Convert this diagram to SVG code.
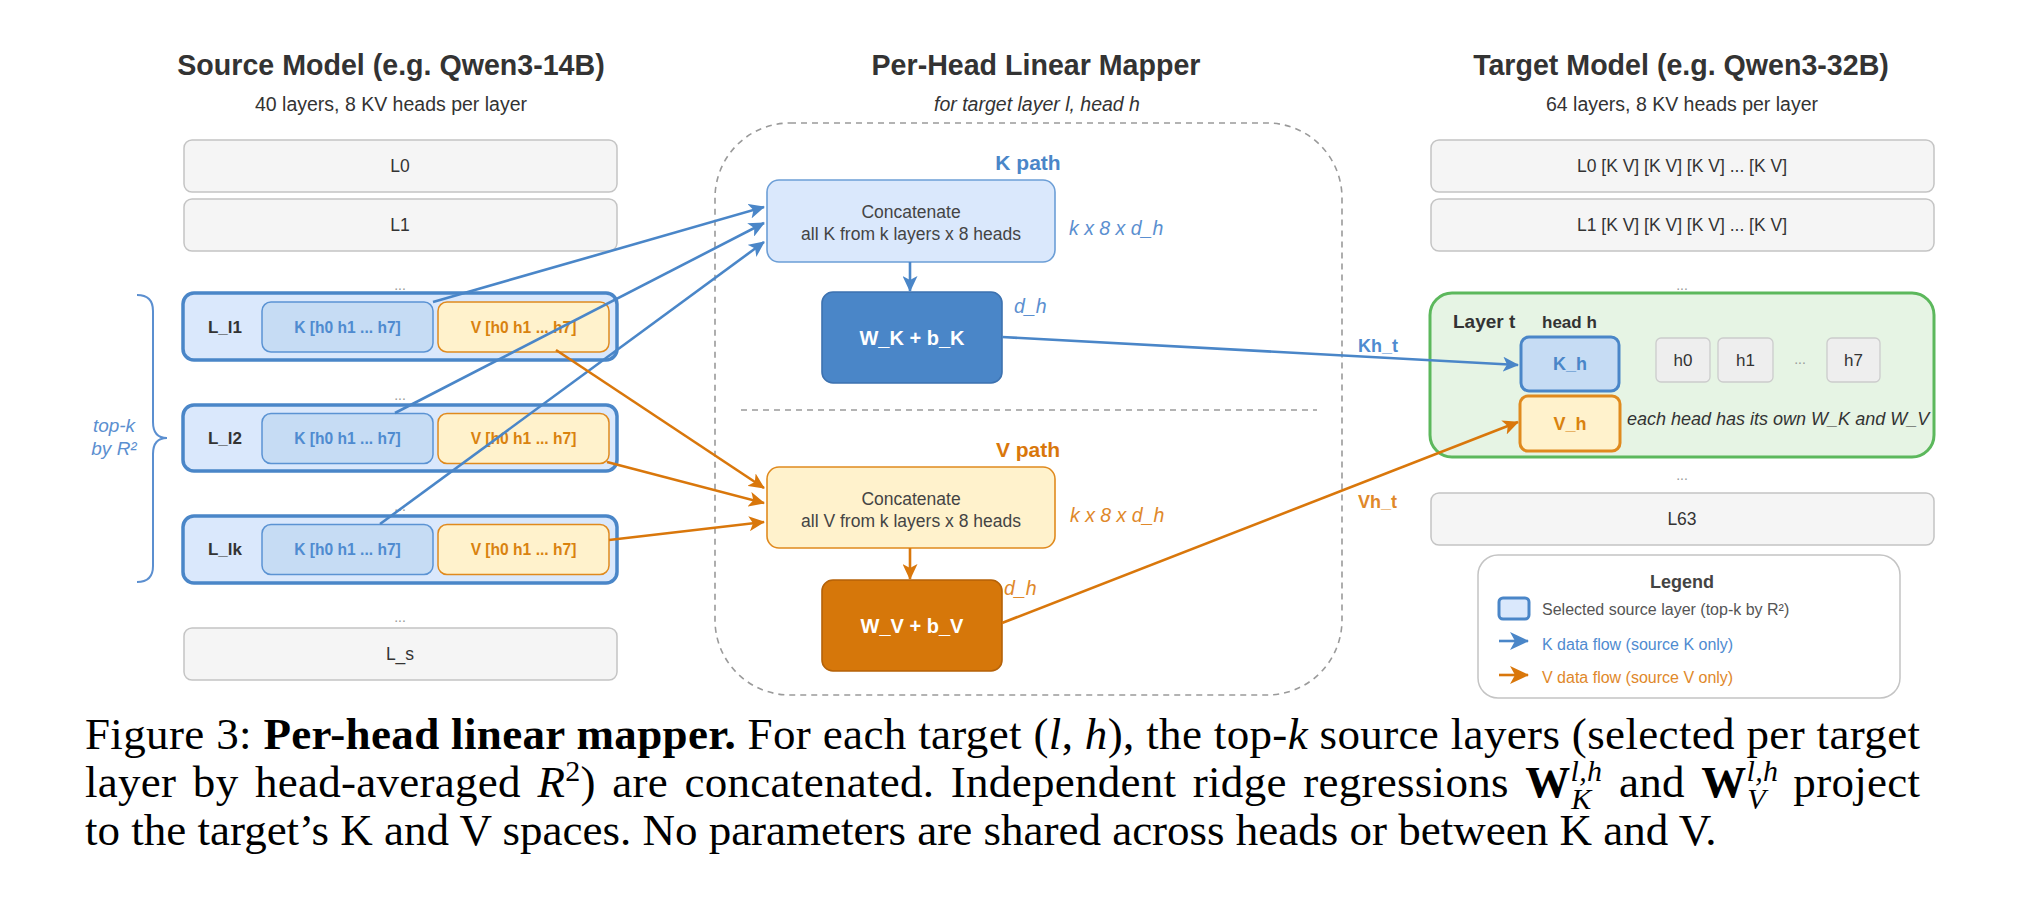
<svg xmlns="http://www.w3.org/2000/svg" width="2032" height="922" viewBox="0 0 2032 922">
<style>
text{font-family:"Liberation Sans",Arial,Helvetica,sans-serif}
.title{font-size:28.6px;font-weight:bold;fill:#333;text-anchor:middle}
.sub{font-size:19.5px;fill:#333;text-anchor:middle}
.subi{font-size:19.5px;fill:#333;text-anchor:middle;font-style:italic}
.gbox{fill:#f5f5f5;stroke:#c4c4c4;stroke-width:1.5}
.glbl{font-size:17.5px;fill:#333;text-anchor:middle;dominant-baseline:central}
.sel{fill:#dae8fc;stroke:#4a86c8;stroke-width:3.5}
.kin{fill:#c6dcf4;stroke:#5b93d3;stroke-width:1.5}
.vin{fill:#fff2cc;stroke:#e08a1e;stroke-width:1.5}
.llbl{font-size:17px;font-weight:bold;fill:#333;text-anchor:middle;dominant-baseline:central}
.ktx{font-size:15.6px;font-weight:bold;fill:#4f8bd0;text-anchor:middle;dominant-baseline:central}
.vtx{font-size:15.6px;font-weight:bold;fill:#d9820f;text-anchor:middle;dominant-baseline:central}
.dots{font-size:14px;fill:#999;text-anchor:middle}
.kl{stroke:#4a86c8;stroke-width:2.6;fill:none;marker-end:url(#ak)}
.vl{stroke:#d9770b;stroke-width:2.6;fill:none;marker-end:url(#av)}
.ctx{font-size:17.5px;fill:#444;text-anchor:middle}
.kdim{font-size:19.5px;font-style:italic;fill:#5b8fd0}
.vdim{font-size:19.5px;font-style:italic;fill:#e0882a}
.cap{font-family:"Liberation Serif","Times New Roman",serif;font-size:45px;fill:#000}
.scr{font-size:30px}
</style>
<defs>
<marker id="ak" markerUnits="userSpaceOnUse" markerWidth="17" markerHeight="15" refX="15" refY="7.5" orient="auto">
<path d="M0,0 L16,7.5 L0,15 L4,7.5 z" fill="#4a86c8"/>
</marker>
<marker id="av" markerUnits="userSpaceOnUse" markerWidth="17" markerHeight="15" refX="15" refY="7.5" orient="auto">
<path d="M0,0 L16,7.5 L0,15 L4,7.5 z" fill="#d9770b"/>
</marker>
<marker id="akl" markerUnits="userSpaceOnUse" markerWidth="20" markerHeight="18" refX="18" refY="9" orient="auto">
<path d="M0,0 L19,9 L0,18 L5,9 z" fill="#4a86c8"/>
</marker>
<marker id="avl" markerUnits="userSpaceOnUse" markerWidth="20" markerHeight="18" refX="18" refY="9" orient="auto">
<path d="M0,0 L19,9 L0,18 L5,9 z" fill="#d9770b"/>
</marker>
</defs>
<rect width="2032" height="922" fill="#fff"/>

<!-- Source column -->
<g id="source-header">
<text class="title" x="391" y="75">Source Model (e.g. Qwen3-14B)</text>
<text class="sub" x="391" y="111">40 layers, 8 KV heads per layer</text>
</g>
<g id="src-L0"><rect class="gbox" x="184" y="140" width="433" height="52" rx="8"/><text class="glbl" x="400" y="166">L0</text></g>
<g id="src-L1"><rect class="gbox" x="184" y="199" width="433" height="52" rx="8"/><text class="glbl" x="400" y="225">L1</text></g>
<text class="dots" x="400" y="290">...</text>
<g id="src-Ll1">
<rect class="sel" x="183" y="293" width="434" height="67" rx="11"/>
<text class="llbl" x="225" y="327">L_l1</text>
<rect class="kin" x="262" y="302" width="171" height="50" rx="9"/>
<text class="ktx" x="347.5" y="327">K [h0 h1 ... h7]</text>
<rect class="vin" x="438" y="302" width="171" height="50" rx="9"/>
<text class="vtx" x="523.5" y="327">V [h0 h1 ... h7]</text>
</g>
<text class="dots" x="400" y="400">...</text>
<g id="src-Ll2">
<rect class="sel" x="183" y="405" width="434" height="66" rx="11"/>
<text class="llbl" x="225" y="438.5">L_l2</text>
<rect class="kin" x="262" y="413.5" width="171" height="50" rx="9"/>
<text class="ktx" x="347.5" y="438.5">K [h0 h1 ... h7]</text>
<rect class="vin" x="438" y="413.5" width="171" height="50" rx="9"/>
<text class="vtx" x="523.5" y="438.5">V [h0 h1 ... h7]</text>
</g>
<text class="dots" x="400" y="511">...</text>
<g id="src-Llk">
<rect class="sel" x="183" y="516" width="434" height="67" rx="11"/>
<text class="llbl" x="225" y="549.5">L_lk</text>
<rect class="kin" x="262" y="524.5" width="171" height="50" rx="9"/>
<text class="ktx" x="347.5" y="549.5">K [h0 h1 ... h7]</text>
<rect class="vin" x="438" y="524.5" width="171" height="50" rx="9"/>
<text class="vtx" x="523.5" y="549.5">V [h0 h1 ... h7]</text>
</g>
<text class="dots" x="400" y="622">...</text>
<g id="src-Ls"><rect class="gbox" x="184" y="628" width="433" height="52" rx="8"/><text class="glbl" x="400" y="654">L_s</text></g>
<g id="topk-brace">
<path d="M137,295 Q153,295 153,311 L153,422 Q153,438 167,438 Q153,438 153,454 L153,566 Q153,582 137,582" fill="none" stroke="#5b8fd0" stroke-width="2"/>
<text x="114" y="432" font-size="19" font-style="italic" fill="#5b8fd0" text-anchor="middle">top-k</text>
<text x="114" y="455" font-size="19" font-style="italic" fill="#5b8fd0" text-anchor="middle">by R²</text>
</g>

<!-- Mapper -->
<g id="mapper">
<text class="title" x="1036" y="75">Per-Head Linear Mapper</text>
<text class="subi" x="1037" y="111">for target layer l, head h</text>
<rect x="715" y="123" width="627" height="572" rx="75" fill="none" stroke="#9a9a9a" stroke-width="1.6" stroke-dasharray="6 5"/>
<line x1="741" y1="410" x2="1317" y2="410" stroke="#9a9a9a" stroke-width="1.6" stroke-dasharray="6 5"/>
</g>
<g id="k-concat">
<text x="1028" y="170" font-size="21" font-weight="bold" fill="#4a86c8" text-anchor="middle">K path</text>
<rect x="767" y="180" width="288" height="82" rx="12" fill="#dae8fc" stroke="#6c9ed6" stroke-width="1.6"/>
<text class="ctx" x="911" y="218">Concatenate</text>
<text class="ctx" x="911" y="240">all K from k layers x 8 heads</text>
<text class="kdim" x="1069" y="235">k x 8 x d_h</text>
</g>
<g id="wk">
<rect x="822" y="292" width="180" height="91" rx="11" fill="#4a86c8" stroke="#3d72b0" stroke-width="1.6"/>
<text x="912" y="345" font-size="20" font-weight="bold" fill="#fff" text-anchor="middle">W_K + b_K</text>
<text class="kdim" x="1014" y="313" font-size="17">d_h</text>
</g>
<g id="v-concat">
<text x="1028" y="457" font-size="21" font-weight="bold" fill="#d9770b" text-anchor="middle">V path</text>
<rect x="767" y="467" width="288" height="81" rx="12" fill="#fff2cc" stroke="#e08a1e" stroke-width="1.6"/>
<text class="ctx" x="911" y="505">Concatenate</text>
<text class="ctx" x="911" y="527">all V from k layers x 8 heads</text>
<text class="vdim" x="1070" y="522">k x 8 x d_h</text>
</g>
<g id="wv">
<rect x="822" y="580" width="180" height="91" rx="11" fill="#d6770a" stroke="#b56208" stroke-width="1.6"/>
<text x="912" y="633" font-size="20" font-weight="bold" fill="#fff" text-anchor="middle">W_V + b_V</text>
<text class="vdim" x="1004" y="595" font-size="17">d_h</text>
</g>

<!-- Target column -->
<g id="target-header">
<text class="title" x="1681" y="75">Target Model (e.g. Qwen3-32B)</text>
<text class="sub" x="1682" y="111">64 layers, 8 KV heads per layer</text>
</g>
<g id="tgt-L0"><rect class="gbox" x="1431" y="140" width="503" height="52" rx="8"/><text class="glbl" x="1682" y="166">L0 [K V] [K V] [K V] ... [K V]</text></g>
<g id="tgt-L1"><rect class="gbox" x="1431" y="199" width="503" height="52" rx="8"/><text class="glbl" x="1682" y="225">L1 [K V] [K V] [K V] ... [K V]</text></g>
<text class="dots" x="1682" y="290">...</text>
<g id="tgt-layer-t">
<rect x="1430" y="293" width="504" height="164" rx="22" fill="#e6f4e4" stroke="#5cb85c" stroke-width="3"/>
<text x="1453" y="328" font-size="19" font-weight="bold" fill="#333">Layer t</text>
<text x="1542" y="328" font-size="17" font-weight="bold" fill="#333">head h</text>
<rect x="1521" y="337" width="98" height="54" rx="8" fill="#c6dcf4" stroke="#4a86c8" stroke-width="3"/>
<text x="1570" y="364" font-size="18" font-weight="bold" fill="#4a86c8" text-anchor="middle" dominant-baseline="central">K_h</text>
<rect x="1520" y="396" width="100" height="55" rx="8" fill="#fff2cc" stroke="#e08a1e" stroke-width="3"/>
<text x="1570" y="424" font-size="18" font-weight="bold" fill="#d9820f" text-anchor="middle" dominant-baseline="central">V_h</text>
<rect x="1656" y="338" width="54" height="44" rx="5" fill="#eeeeee" stroke="#cccccc" stroke-width="1.3"/>
<text x="1683" y="360" font-size="17" fill="#333" text-anchor="middle" dominant-baseline="central">h0</text>
<rect x="1718" y="338" width="55" height="44" rx="5" fill="#eeeeee" stroke="#cccccc" stroke-width="1.3"/>
<text x="1745.5" y="360" font-size="17" fill="#333" text-anchor="middle" dominant-baseline="central">h1</text>
<text class="dots" x="1800" y="364">...</text>
<rect x="1827" y="338" width="53" height="44" rx="5" fill="#eeeeee" stroke="#cccccc" stroke-width="1.3"/>
<text x="1853.5" y="360" font-size="17" fill="#333" text-anchor="middle" dominant-baseline="central">h7</text>
<text x="1627" y="425" font-size="18" font-style="italic" fill="#333">each head has its own W_K and W_V</text>
</g>
<text class="dots" x="1682" y="480">...</text>
<g id="tgt-L63"><rect class="gbox" x="1431" y="493" width="503" height="52" rx="8"/><text class="glbl" x="1682" y="519">L63</text></g>

<!-- Legend -->
<g id="legend">
<rect x="1478" y="555" width="422" height="143" rx="20" fill="#fff" stroke="#c4c4c4" stroke-width="1.5"/>
<text x="1682" y="588" font-size="18" font-weight="bold" fill="#444" text-anchor="middle">Legend</text>
<rect x="1499" y="598" width="30" height="21" rx="4" fill="#dae8fc" stroke="#4a86c8" stroke-width="3"/>
<text x="1542" y="615" font-size="16" fill="#555">Selected source layer (top-k by R²)</text>
<line x1="1499" y1="641" x2="1528" y2="641" stroke="#4a86c8" stroke-width="2.6" marker-end="url(#akl)"/>
<text x="1542" y="650" font-size="16" fill="#4f8bd0">K data flow (source K only)</text>
<line x1="1499" y1="675" x2="1528" y2="675" stroke="#d9770b" stroke-width="2.6" marker-end="url(#avl)"/>
<text x="1542" y="683" font-size="16" fill="#e0882a">V data flow (source V only)</text>
</g>

<!-- Connectors -->
<g id="connectors">
<line class="kl" x1="433" y1="302" x2="764" y2="207"/>
<line class="kl" x1="395" y1="413" x2="764" y2="223"/>
<line class="kl" x1="380" y1="524" x2="764" y2="242"/>
<line class="kl" x1="910" y1="262" x2="910" y2="291"/>
<line class="kl" x1="1002" y1="337" x2="1518" y2="365"/>
<line class="vl" x1="556" y1="350" x2="764" y2="488"/>
<line class="vl" x1="607" y1="462" x2="764" y2="503"/>
<line class="vl" x1="609" y1="540" x2="764" y2="522"/>
<line class="vl" x1="910" y1="548" x2="910" y2="579"/>
<line class="vl" x1="1002" y1="623" x2="1518" y2="422"/>
<text x="1358" y="352" font-size="18" font-weight="bold" fill="#4f8bd0">Kh_t</text>
<text x="1358" y="508" font-size="18" font-weight="bold" fill="#e0882a">Vh_t</text>
</g>

<!-- Caption -->
<g id="caption">
<text class="cap" x="85" y="749" textLength="1835" lengthAdjust="spacing">Figure 3: <tspan font-weight="bold">Per-head linear mapper.</tspan> For each target (<tspan font-style="italic">l</tspan>, <tspan font-style="italic">h</tspan>), the top-<tspan font-style="italic">k</tspan> source layers (selected per target</text>
<text class="cap" x="85" y="797" word-spacing="5" textLength="1835" lengthAdjust="spacing">layer by head-averaged <tspan font-style="italic">R</tspan><tspan class="scr" dy="-16">2</tspan><tspan dy="16">) are concatenated. Independent ridge regressions </tspan><tspan font-weight="bold">W</tspan><tspan class="scr" font-style="italic" dy="-16">l,h</tspan><tspan class="scr" font-style="italic" dx="-31" dy="28">K</tspan><tspan dx="11" dy="-12"> and </tspan><tspan font-weight="bold">W</tspan><tspan class="scr" font-style="italic" dy="-16">l,h</tspan><tspan class="scr" font-style="italic" dx="-31" dy="28">V</tspan><tspan dx="11" dy="-12"> project</tspan></text>
<text class="cap" x="85" y="845">to the target’s K and V spaces. No parameters are shared across heads or between K and V.</text>
</g>
</svg>
